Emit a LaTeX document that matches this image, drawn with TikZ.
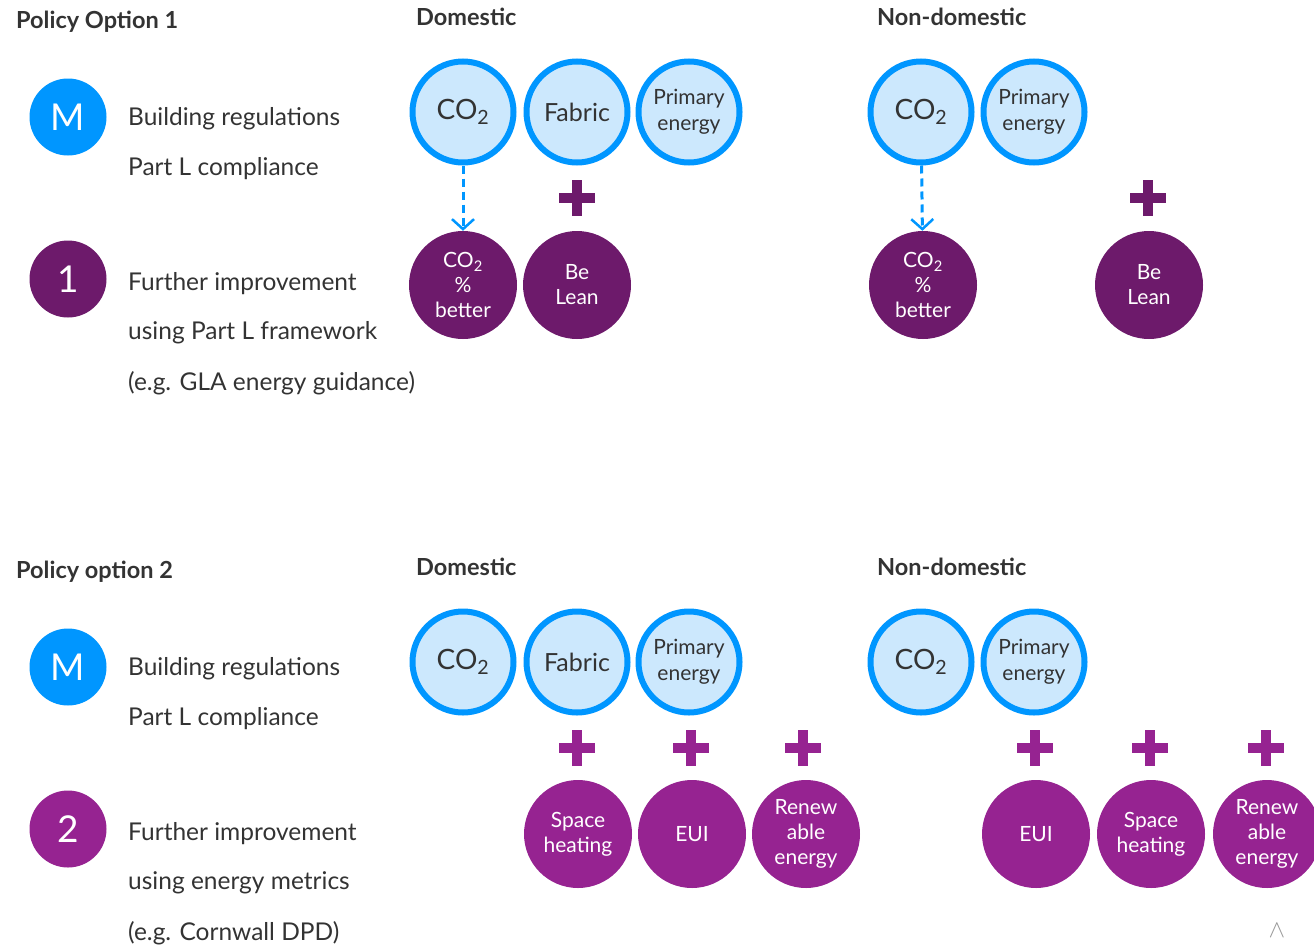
\documentclass[tikz,border=0pt]{standalone}
\usepackage{fontspec}
\setmainfont{Lato}
\usetikzlibrary{arrows.meta}
\definecolor{regblue}{HTML}{0096FF}
\definecolor{paleblue}{HTML}{CCE8FD}
\definecolor{optone}{HTML}{6D1A6B}
\definecolor{opttwo}{HTML}{962391}
\definecolor{inktext}{HTML}{333333}
\newcommand{\plusmark}[2]{%
  \fill[#2] (#1) ++(-18,-5) rectangle ++(36,10);
  \fill[#2] (#1) ++(-5,-18) rectangle ++(10,36);}

\begin{document}
\begin{tikzpicture}[x=1pt, y=-1pt,
    every node/.style={text=inktext},
    heading/.style={anchor=base west, inner sep=0pt, font=\fontsize{23.5}{28}\selectfont\bfseries},
    body/.style={anchor=base west, inner sep=0pt, font=\fontsize{24.5}{28}\selectfont},
    badge/.style={circle, minimum size=77pt, inner sep=0pt, text=white, font=\fontsize{37}{40}\selectfont},
    metric/.style={circle, draw=regblue, line width=6pt, fill=paleblue, minimum size=101pt, inner sep=0pt, align=center},
    extra/.style={circle, minimum size=108pt, inner sep=0pt, text=white, align=center, font=\fontsize{21}{25}\selectfont},
    dasharrow/.style={regblue, line width=3pt, dash pattern=on 8pt off 5pt, -{Straight Barb[length=10pt, width=22pt, line width=2.5pt]}}]
  \useasboundingbox (0,0) rectangle (1314,945);

  % Policy option 1
  \node[heading] (pol1) at (16,28) {Policy Option 1};
  \node[heading] (dom1) at (416,25) {Domestic};
  \node[heading] (ndom1) at (877,25) {Non-domestic};

  \node[badge, fill=regblue] (m1) at (68,117) {M};
  \node[body] (reg1a) at (128,125) {Building regulations};
  \node[body] (reg1b) at (128,175) {Part L compliance};
  \node[badge, fill=optone] (n1) at (68,279) {1};
  \node[body] (imp1a) at (128,290) {Further improvement};
  \node[body] (imp1b) at (128,339) {using Part L framework};
  \node[body] (imp1c) at (128,390) {(e.g. GLA energy guidance)};

  % domestic
  \node[metric, font=\fontsize{28}{30}\selectfont] (co2d1) at (463,112) {CO\textsubscript{2}};
  \node[metric, font=\fontsize{25}{28}\selectfont] (fabd1) at (577,112) {Fabric};
  \node[metric, font=\fontsize{21}{26}\selectfont] (ped1) at (689,112) {Primary\\energy};
  \node[extra, fill=optone] (pctd1) at (463,285) {CO\textsubscript{2}\\\%\\better};
  \node[extra, fill=optone] (leand1) at (577,285) {Be\\Lean};
  \plusmark{577,198}{optone}
  \draw[dasharrow] (co2d1) -- (pctd1);

  % non-domestic
  \node[metric, font=\fontsize{28}{30}\selectfont] (co2n1) at (921,112) {CO\textsubscript{2}};
  \node[metric, font=\fontsize{21}{26}\selectfont] (pen1) at (1034,112) {Primary\\energy};
  \node[extra, fill=optone] (pctn1) at (923,285) {CO\textsubscript{2}\\\%\\better};
  \node[extra, fill=optone] (leann1) at (1149,285) {Be\\Lean};
  \plusmark{1148,198}{optone}
  \draw[dasharrow] (co2n1) -- (pctn1);

  % Policy option 2
  \node[heading] (pol2) at (16,578) {Policy option 2};
  \node[heading] (dom2) at (416,575) {Domestic};
  \node[heading] (ndom2) at (877,575) {Non-domestic};

  \node[badge, fill=regblue] (m2) at (68,667) {M};
  \node[body] (reg2a) at (128,675) {Building regulations};
  \node[body] (reg2b) at (128,725) {Part L compliance};
  \node[badge, fill=opttwo] (n2) at (68,829) {2};
  \node[body] (imp2a) at (128,840) {Further improvement};
  \node[body] (imp2b) at (128,889) {using energy metrics};
  \node[body] (imp2c) at (128,940) {(e.g. Cornwall DPD)};

  % domestic
  \node[metric, font=\fontsize{28}{30}\selectfont] (co2d2) at (463,662) {CO\textsubscript{2}};
  \node[metric, font=\fontsize{25}{28}\selectfont] (fabd2) at (577,662) {Fabric};
  \node[metric, font=\fontsize{21}{26}\selectfont] (ped2) at (689,662) {Primary\\energy};
  \node[extra, fill=opttwo] (shd2) at (578,834) {Space\\heating};
  \node[extra, fill=opttwo] (euid2) at (692,834) {EUI};
  \node[extra, fill=opttwo] (red2) at (806,834) {Renew\\able\\energy};
  \plusmark{577,748}{opttwo}
  \plusmark{691,748}{opttwo}
  \plusmark{803,748}{opttwo}

  % non-domestic
  \node[metric, font=\fontsize{28}{30}\selectfont] (co2n2) at (921,662) {CO\textsubscript{2}};
  \node[metric, font=\fontsize{21}{26}\selectfont] (pen2) at (1034,662) {Primary\\energy};
  \node[extra, fill=opttwo] (euin2) at (1036,834) {EUI};
  \node[extra, fill=opttwo] (shn2) at (1151,834) {Space\\heating};
  \node[extra, fill=opttwo] (ren2) at (1267,834) {Renew\\able\\energy};
  \plusmark{1035,748}{opttwo}
  \plusmark{1150,748}{opttwo}
  \plusmark{1266,748}{opttwo}

  \node[text=black!40, font=\fontsize{28}{28}\selectfont] (caret) at (1277,931) {$\wedge$};
\end{tikzpicture}
\end{document}
